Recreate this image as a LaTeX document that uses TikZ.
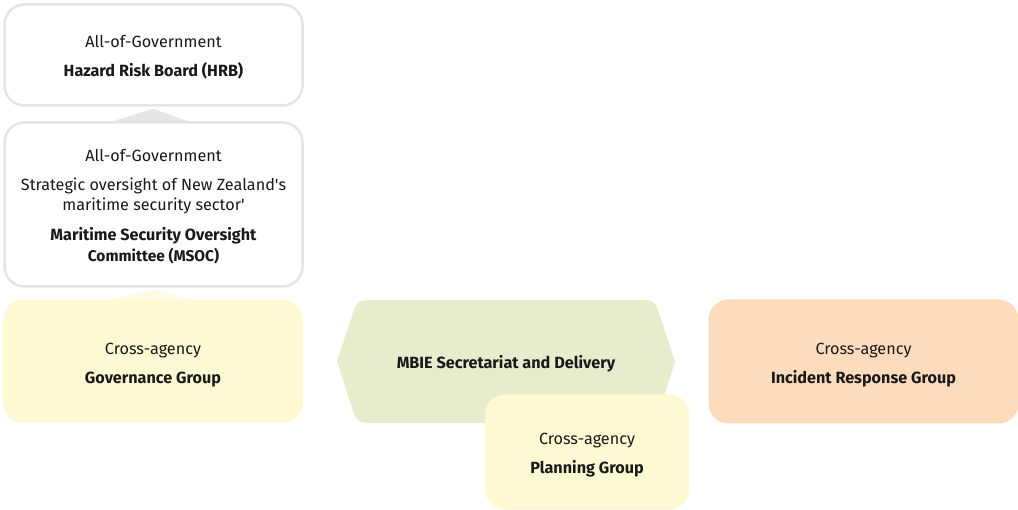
\documentclass[tikz,border=0pt]{standalone}
\usepackage{fontspec}
\setmainfont{Fira Sans}
\usetikzlibrary{calc}
\definecolor{bordergray}{HTML}{E4E4E4}
\definecolor{trigray}{HTML}{E5E6E7}
\definecolor{paleyellow}{HTML}{FEF9D3}
\definecolor{triyellow}{HTML}{FFFAE2}
\definecolor{palegreen}{HTML}{E7EDCC}
\definecolor{paleorange}{HTML}{FDDCBD}
\newcommand\pushdown[1]{\rule{0pt}{#1pt}}
\tikzset{
  box/.style={rectangle, rounded corners=20pt, align=center, inner sep=0pt,
    font=\fontsize{16.2}{20}\selectfont, text=black!90},
  whitebox/.style={box, draw=bordergray, line width=2.5pt, fill=white},
  yellowbox/.style={box, fill=paleyellow},
  orangebox/.style={box, fill=paleorange},
  label/.style={align=center, inner sep=0pt, font=\fontsize{16.2}{20}\selectfont, text=black!90},
}
\begin{document}
\begin{tikzpicture}[x=1pt,y=-1pt]
\useasboundingbox (0,0) rectangle (1018,510);
% HRB
\node[whitebox, minimum width=298pt, minimum height=101pt] (hrb) at (153.5,55)
  {\pushdown{16.7}All-of-Government\\[9pt]\textbf{Hazard Risk Board (HRB)}};
% connector HRB <- MSOC
\fill[trigray] ($(hrb.south)+(0,2)$) coordinate (t1) -- (110,122) -- (190,122) -- cycle;
% MSOC
\node[whitebox, minimum width=298pt, minimum height=164pt] (msoc) at (153.5,204.5)
  {\pushdown{15.7}All-of-Government\\[9pt]Strategic oversight of New Zealand\textquotesingle s\\maritime security sector\textquotesingle\\[10pt]
   \textbf{Maritime Security Oversight}\\[1pt]{\fontsize{15.5}{20}\selectfont\textbf{Committee (MSOC)}}};
% connector MSOC <- Governance
\fill[triyellow] ($(msoc.south)+(0,2)$) coordinate (t2) -- (105,301) -- (195,301) -- cycle;
% Governance
\node[yellowbox, minimum width=300pt, minimum height=123pt] (gov) at (153,361.5)
  {\pushdown{19.2}Cross-agency\\[9pt]\textbf{Governance Group}};
% MBIE hexagon
\fill[palegreen] (337,361) -- (354,310) .. controls (357,301) and (360,300) .. (374,300)
  -- (638,300) .. controls (652,300) and (655,301) .. (658,310) -- (675,362)
  -- (658,414) .. controls (655,423) and (652,423) .. (638,423)
  -- (376,423) .. controls (360,423) and (357,422) .. (354,414) -- cycle;
\node[label] (mbie) at (506,362) {\pushdown{15.7}\textbf{MBIE Secretariat and Delivery}};
% Incident
\node[orangebox, minimum width=310pt, minimum height=124pt] (irg) at (863.5,361.5)
  {\pushdown{19.2}Cross-agency\\[9pt]\textbf{Incident Response Group}};
% Planning
\node[yellowbox, minimum width=204pt, minimum height=115pt] (plan) at (587,452)
  {\pushdown{17.2}Cross-agency\\[9pt]\textbf{Planning Group}};
\end{tikzpicture}
\end{document}
